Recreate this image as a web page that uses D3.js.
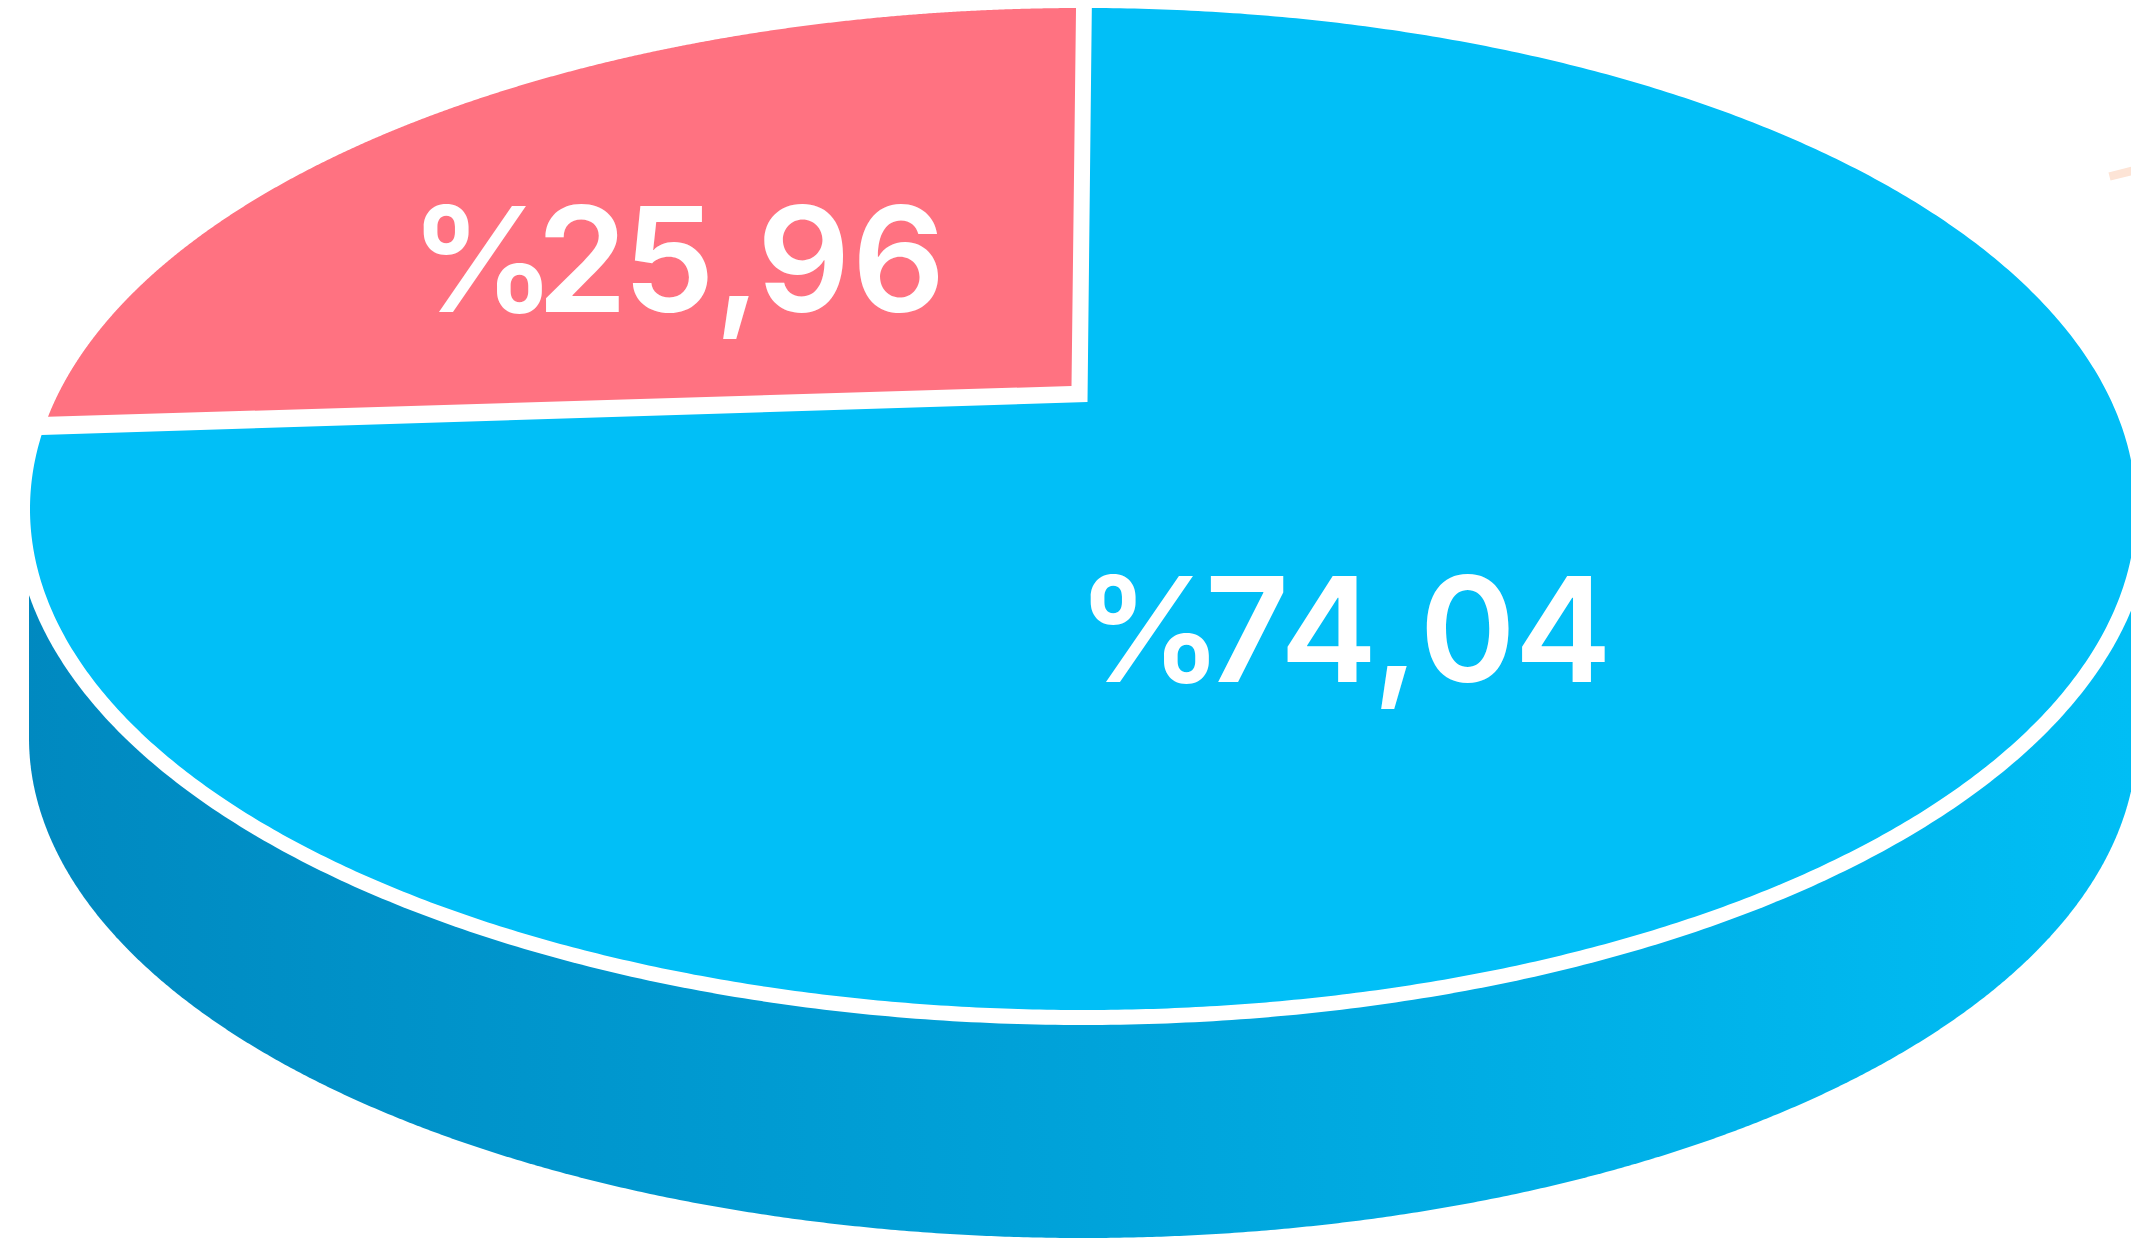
<!DOCTYPE html>
<html><head><meta charset="utf-8">
<style>html,body{margin:0;padding:0;background:#fff;overflow:hidden}svg{display:block}</style>
<script src="https://cdn.jsdelivr.net/npm/d3@7"></script>
</head><body>
<svg id="c" width="2131" height="1243"></svg>
<script>
// Data
const sliceValues = [25.96, 74.04];
const sliceColors = ["#ff7281", "#01bff7"];
const labelPrefix = "%";
const bodyGradientStops = ["#0089c0", "#00a3da", "#00bef5"];

// Layout
const top_ = {cx: 1083, cy: 509, rx: 1053, ry: 501};
const ring = {cx: 1083, cy: 509, rx: 1069, ry: 516};
const base = {cx: 1083, cy: 738, rx: 1054, ry: 500};
const apexes = [[1071.5, 386], [1087.5, 402]];
const labelBaselines = [312, 682];
const glyphCentres = [
  [483, 582, 670, 736, 804, 899],
  [1150, 1247, 1329, 1394, 1467.5, 1563.5]
];
const fontSize = 146, fontWeight = 600, fontFamily = "Inter";

const svg = d3.select("#c");
const rad = Math.PI / 180;
const locale = d3.formatLocale({decimal: ",", thousands: ".", grouping: [3], currency: ["", ""]});
const fmt = locale.format(".2f");

// Pie angles -> ellipse parametric angle (the picture is a perspective view, not true proportion)
const pie = d3.pie().sort(null).startAngle(0).endAngle(2 * Math.PI)(sliceValues);
const angleScale = d3.scaleLinear()
  .domain([0, pie[0].endAngle, 2 * Math.PI])
  .range([-80.45, 0.05, 279.55]);
const pads = [[1.05, 0.43], [0.43, 1.05]];

const onEllipse = (e, deg) => [e.cx + e.rx * Math.sin(deg * rad), e.cy - e.ry * Math.cos(deg * rad)];
const line = d3.line();
const sweep = (e, a0, a1, n = 720) => d3.range(n + 1).map(i => onEllipse(e, a0 + (a1 - a0) * i / n));

const defs = svg.append("defs");
const grad = defs.append("linearGradient").attr("id", "bodyGrad")
  .attr("gradientUnits", "userSpaceOnUse")
  .attr("x1", 29).attr("y1", 800).attr("x2", 2131).attr("y2", 720);
bodyGradientStops.forEach((c, i, a) =>
  grad.append("stop").attr("offset", i / (a.length - 1)).attr("stop-color", c));

// Cylinder side
const sidePts = [[base.cx - base.rx, top_.cy]]
  .concat(sweep(base, 270, 90, 720))
  .concat([[base.cx + base.rx, top_.cy]]);
svg.append("path").attr("d", line(sidePts) + "Z").attr("fill", "url(#bodyGrad)");

// White ring separating lid from side
svg.append("path").attr("d", line(sweep(ring, 0, 360)) + "Z").attr("fill", "#fff");

// Lid slices
svg.selectAll("path.slice").data(pie).join("path").attr("class", "slice")
  .attr("fill", (d, i) => sliceColors[i])
  .attr("d", (d, i) => {
    const a0 = angleScale(d.startAngle) + pads[i][0];
    const a1 = angleScale(d.endAngle) - pads[i][1];
    return line([apexes[i]].concat(sweep(top_, a0, a1))) + "Z";
  });

// Faint fragment at the right edge
svg.append("line")
  .attr("x1", 2109.5).attr("y1", 176.5).attr("x2", 2140).attr("y2", 168.8)
  .attr("stroke", "#fde4d6").attr("stroke-width", 8.5);

// Labels: real text, each glyph's ink centred on its measured position
const ctx = document.createElement("canvas").getContext("2d");
ctx.font = `${fontWeight} ${fontSize}px ${fontFamily}`;
const glyphX = (ch, centre) => {
  const m = ctx.measureText(ch);
  return centre - (m.actualBoundingBoxRight - m.actualBoundingBoxLeft) / 2;
};
svg.selectAll("text.lbl").data(sliceValues).join("text").attr("class", "lbl")
  .attr("y", (d, i) => labelBaselines[i])
  .attr("x", (d, i) => Array.from(labelPrefix + fmt(d))
    .map((ch, k) => glyphX(ch, glyphCentres[i][k]).toFixed(1)).join(" "))
  .attr("font-family", fontFamily).attr("font-weight", fontWeight)
  .attr("font-size", fontSize).attr("fill", "#fff")
  .text(d => labelPrefix + fmt(d));
</script>
</body></html>
